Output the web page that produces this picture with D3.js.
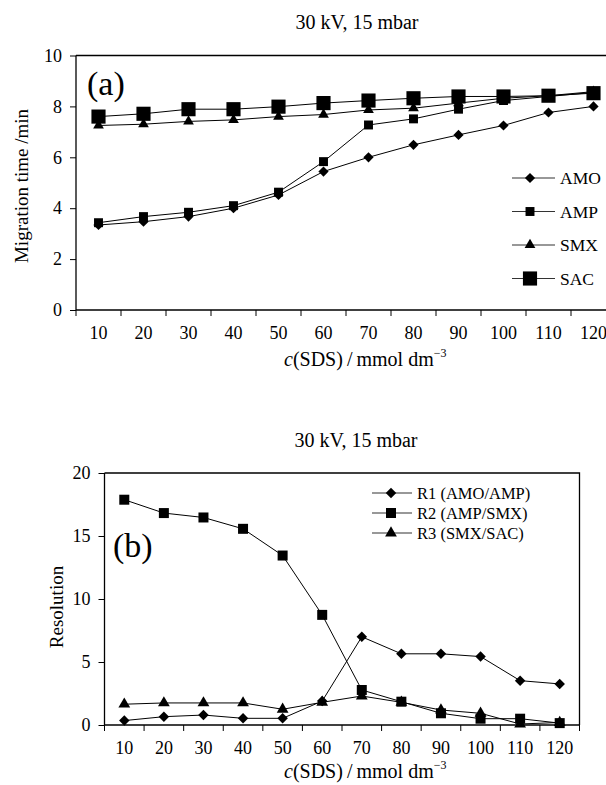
<!DOCTYPE html>
<html>
<head>
<meta charset="utf-8">
<script src="https://cdn.jsdelivr.net/npm/d3@7"></script>
<style>
  body { margin: 0; background: #fff; }
  svg { display: block; font-family: "Liberation Serif", "Times New Roman", serif; }
  .domain { display: none; }
</style>
</head>
<body>
<div id="chart"></div>
<script>
// SDS concentration (mmol dm-3)
const conc = [10, 20, 30, 40, 50, 60, 70, 80, 90, 100, 110, 120];

// (a) migration time / min
const amo = [3.34, 3.47, 3.67, 4.00, 4.52, 5.44, 6.00, 6.49, 6.88, 7.25, 7.76, 8.00];
const amp = [3.43, 3.67, 3.84, 4.10, 4.63, 5.83, 7.27, 7.51, 7.89, 8.23, 8.39, 8.55];
const smx = [7.25, 7.30, 7.41, 7.47, 7.60, 7.68, 7.86, 7.93, 8.13, 8.32, 8.42, 8.58];
const sac = [7.60, 7.71, 7.89, 7.89, 7.99, 8.13, 8.23, 8.32, 8.39, 8.39, 8.42, 8.52];

// (b) resolution
const r1 = [0.35, 0.66, 0.79, 0.53, 0.53, 1.9, 7.0, 5.65, 5.65, 5.43, 3.52, 3.26];
const r2 = [17.88, 16.82, 16.47, 15.57, 13.45, 8.74, 2.78, 1.85, 0.93, 0.5, 0.5, 0.15];
const r3 = [1.65, 1.75, 1.75, 1.75, 1.25, 1.8, 2.3, 1.8, 1.19, 0.93, 0.08, 0.2];

const yTicksA = [0, 2, 4, 6, 8, 10];
const yTicksB = [0, 5, 10, 15, 20];

const svg = d3.select("#chart")
    .append("svg")
        .attr("width", 606)
        .attr("height", 785);

const diamond = s => d3.symbol().type(d3.symbolSquare).size(s);

function drawPanel(p) {
    const x = d3.scaleBand()
        .domain(conc)
        .range([p.left, p.right])
        .padding(0);
    const y = d3.scaleLinear()
        .domain([0, p.yMax])
        .range([p.bottom, p.top]);

    const g = svg.append("g");

    // frame (top + right)
    g.append("path")
        .attr("d", `M${p.left},${p.top}H${p.right}V${p.bottom}`)
        .attr("fill", "none")
        .attr("stroke", "#000")
        .attr("stroke-width", 1.3);

    // y axis
    const ya = g.append("g")
        .attr("transform", `translate(${p.left},0)`)
        .call(d3.axisLeft(y).tickValues(p.yTicks).tickSize(6).tickPadding(8));
    ya.selectAll("text").attr("font-size", 18).attr("font-family", "Liberation Serif").attr("fill", "#000");
    g.append("line")
        .attr("x1", p.left).attr("x2", p.left)
        .attr("y1", p.top).attr("y2", p.bottom)
        .attr("stroke", "#000").attr("stroke-width", 1.3);

    // x axis: labels at band centres, ticks at band edges
    const xa = g.append("g")
        .attr("transform", `translate(0,${p.bottom})`)
        .call(d3.axisBottom(x).tickSize(0).tickPadding(16));
    xa.selectAll("text").attr("font-size", 18).attr("font-family", "Liberation Serif").attr("fill", "#000");
    g.append("line")
        .attr("x1", p.left).attr("x2", p.right)
        .attr("y1", p.bottom).attr("y2", p.bottom)
        .attr("stroke", "#000").attr("stroke-width", 1.3);
    g.selectAll(".edge")
        .data(conc.map(d => x(d)).concat([p.right]))
        .enter().append("line")
        .attr("x1", d => d).attr("x2", d => d)
        .attr("y1", p.bottom).attr("y2", p.bottom + 6)
        .attr("stroke", "#000");

    const cx = d => x(d) + x.bandwidth() / 2;
    const line = d3.line()
        .x((d, i) => cx(conc[i]))
        .y(d => y(d));

    p.series.forEach(s => {
        g.append("path")
            .datum(s.values)
            .attr("d", line)
            .attr("fill", "none")
            .attr("stroke", "#000")
            .attr("stroke-width", 1);
        g.selectAll(null)
            .data(s.values)
            .enter().append("path")
            .attr("d", s.symbol)
            .attr("transform", (d, i) => `translate(${cx(conc[i])},${y(d)})${s.rotate ? " rotate(45)" : ""}`)
            .attr("fill", "#000");
    });

    // legend
    p.series.forEach((s, i) => {
        const ly = p.legend.y + i * p.legend.step;
        g.append("line")
            .attr("x1", p.legend.x0).attr("x2", p.legend.x1)
            .attr("y1", ly).attr("y2", ly)
            .attr("stroke", "#333").attr("stroke-width", 1.2);
        g.append("path")
            .attr("d", s.symbol)
            .attr("transform", `translate(${p.legend.xm},${ly})${s.rotate ? " rotate(45)" : ""}`)
            .attr("fill", "#000");
        g.append("text")
            .attr("x", p.legend.tx)
            .attr("y", ly + 6)
            .attr("font-size", p.legend.fs)
            .text(s.name);
    });

    // title
    g.append("text")
        .attr("x", p.titleX).attr("y", p.titleY)
        .attr("text-anchor", "middle")
        .attr("font-size", 20)
        .text("30 kV, 15 mbar");

    // panel letter
    g.append("text")
        .attr("x", p.letter.x).attr("y", p.letter.y)
        .attr("font-size", 34)
        .text(p.letter.t);

    // y title
    g.append("text")
        .attr("transform", `translate(${p.yTitle.x},${p.yTitle.y}) rotate(-90)`)
        .attr("text-anchor", "middle")
        .attr("font-size", 19)
        .text(p.yTitle.t);

    // x title
    const xt = g.append("text")
        .attr("x", 284).attr("y", p.xTitleY)
        .attr("font-size", 20);
    xt.append("tspan").attr("font-style", "italic").text("c");
    xt.append("tspan").text("(SDS)\u2009/\u2009mmol dm");
    xt.append("tspan").attr("font-size", 12).attr("dy", -9).text("\u22123");
}

drawPanel({
    left: 76, right: 616, top: 55.5, bottom: 310, yMax: 10, yTicks: yTicksA,
    series: [
        { name: "AMO", values: amo, symbol: diamond(52), rotate: true },
        { name: "AMP", values: amp, symbol: d3.symbol().type(d3.symbolSquare).size(80) },
        { name: "SMX", values: smx, symbol: d3.symbol().type(d3.symbolTriangle).size(50) },
        { name: "SAC", values: sac, symbol: d3.symbol().type(d3.symbolSquare).size(200) }
    ],
    legend: { y: 178, step: 33.5, x0: 512, x1: 555, xm: 530, tx: 560, fs: 17.5 },
    titleX: 357, titleY: 29,
    letter: { x: 87, y: 95, t: "(a)" },
    yTitle: { x: 28, y: 186, t: "Migration time /min" },
    xTitleY: 366
});

drawPanel({
    left: 104.5, right: 579.5, top: 473, bottom: 725, yMax: 20, yTicks: yTicksB,
    series: [
        { name: "R1 (AMO/AMP)", values: r1, symbol: diamond(55), rotate: true },
        { name: "R2 (AMP/SMX)", values: r2, symbol: d3.symbol().type(d3.symbolSquare).size(100) },
        { name: "R3 (SMX/SAC)", values: r3, symbol: d3.symbol().type(d3.symbolTriangle).size(60) }
    ],
    legend: { y: 493, step: 20, x0: 372, x1: 412, xm: 391, tx: 417, fs: 16.5 },
    titleX: 356, titleY: 447,
    letter: { x: 113, y: 557, t: "(b)" },
    yTitle: { x: 63, y: 607, t: "Resolution" },
    xTitleY: 778
});
</script>
</body>
</html>
